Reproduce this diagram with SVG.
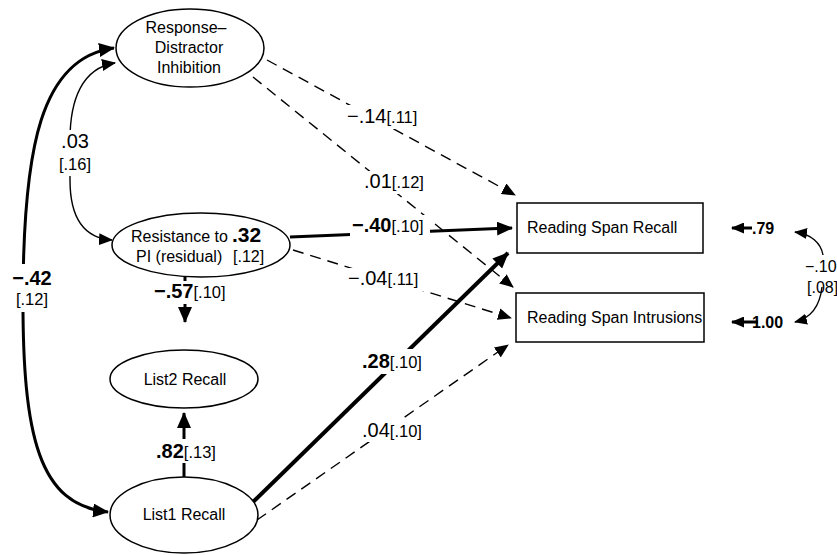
<svg xmlns="http://www.w3.org/2000/svg" width="837" height="555" viewBox="0 0 837 555">
<style>
  text { font-family: "Liberation Sans", Arial, sans-serif; fill: #000; }
  .node { fill: #fff; stroke: #000; stroke-width: 1.5; }
  .nt { font-size: 16px; }
  .num { font-size: 20px; }
  .b { font-weight: bold; }
  .br { font-size: 16.5px; }
  .dash { fill: none; stroke: #000; stroke-width: 1.4; stroke-dasharray: 11 7; }
  .thin { fill: none; stroke: #000; stroke-width: 1.4; }
  .thick { fill: none; stroke: #000; stroke-width: 3; }
  .thicker { fill: none; stroke: #000; stroke-width: 4; }
  .bg { fill: #fff; stroke: none; }
</style>
<defs>
  <marker id="ah" viewBox="0 0 14 12" refX="13" refY="6" markerWidth="14" markerHeight="12" markerUnits="userSpaceOnUse" orient="auto-start-reverse">
    <path d="M0,0 L14,6 L0,12 z" fill="#000"/>
  </marker>
  <marker id="ahb" viewBox="0 0 16 14" refX="15" refY="7" markerWidth="16" markerHeight="14" markerUnits="userSpaceOnUse" orient="auto-start-reverse">
    <path d="M0,0 L16,7 L0,14 z" fill="#000"/>
  </marker>
  <marker id="ahs" viewBox="0 0 13 11" refX="12" refY="5.5" markerWidth="13" markerHeight="11" markerUnits="userSpaceOnUse" orient="auto-start-reverse">
    <path d="M0,0 L13,5.5 L0,11 z" fill="#000"/>
  </marker>
</defs>

<g id="connectors">
  <path class="thick" d="M 114 48 C 40 58, 24 150, 23 290 C 22 440, 40 505, 108 512" marker-start="url(#ahb)" marker-end="url(#ahb)"/>
  <path class="thin" d="M 115 63 C 82 68, 70 100, 70 140 L 70 180 C 70 215, 82 238, 112 240" marker-start="url(#ah)" marker-end="url(#ah)"/>
  <line class="dash" x1="267" y1="60" x2="515" y2="195" marker-end="url(#ah)"/>
  <line class="dash" x1="253" y1="77" x2="513" y2="287" marker-end="url(#ah)"/>
  <line class="thick" x1="290" y1="237" x2="512" y2="228" marker-end="url(#ahb)"/>
  <line class="dash" x1="293" y1="250" x2="511" y2="318" marker-end="url(#ah)"/>
  <line class="thicker" x1="253" y1="502" x2="508" y2="253" marker-end="url(#ahb)"/>
  <line class="dash" x1="257" y1="520" x2="508" y2="345" marker-end="url(#ah)"/>
  <line class="thick" x1="185" y1="277" x2="185" y2="322" marker-end="url(#ahb)"/>
  <line class="thick" x1="184" y1="477" x2="184" y2="413" marker-end="url(#ahb)"/>
  <line class="thick" x1="752" y1="228" x2="732" y2="228" marker-end="url(#ahs)"/>
  <line class="thick" x1="758" y1="322" x2="732" y2="322" marker-end="url(#ahs)"/>
  <path class="thin" d="M 823 255 C 821 243, 811 234, 795 232" marker-end="url(#ahs)"/>
  <path class="thin" d="M 822 287 C 820 305, 811 318, 795 322" marker-end="url(#ahs)"/>
</g>

<g id="labels">
  <rect class="bg" x="9" y="264" width="48" height="48"/>
  <text class="num b" x="32" y="285" text-anchor="middle">−.42</text>
  <text class="br" x="32" y="305" text-anchor="middle">[.12]</text>

  <rect class="bg" x="56" y="130" width="38" height="46"/>
  <text class="num" x="75" y="148" text-anchor="middle">.03</text>
  <text class="br" x="75" y="170" text-anchor="middle">[.16]</text>

  <rect class="bg" x="345" y="105" width="82" height="24"/>
  <text x="347" y="123"><tspan class="num">−.14</tspan><tspan class="br">[.11]</tspan></text>

  <rect class="bg" x="362" y="171" width="66" height="23"/>
  <text x="364" y="188"><tspan class="num">.01</tspan><tspan class="br">[.12]</tspan></text>

  <rect class="bg" x="350" y="215" width="80" height="23"/>
  <text x="352" y="232"><tspan class="num b">−.40</tspan><tspan class="br">[.10]</tspan></text>

  <rect class="bg" x="346" y="268" width="82" height="23"/>
  <text x="348" y="285"><tspan class="num">−.04</tspan><tspan class="br">[.11]</tspan></text>

  <rect class="bg" x="360" y="349" width="68" height="25"/>
  <text x="362" y="368"><tspan class="num b">.28</tspan><tspan class="br">[.10]</tspan></text>

  <rect class="bg" x="360" y="419" width="68" height="23"/>
  <text x="362" y="437"><tspan class="num">.04</tspan><tspan class="br">[.10]</tspan></text>

  <rect class="bg" x="152" y="281" width="82" height="23"/>
  <text x="154" y="298"><tspan class="num b">−.57</tspan><tspan class="br">[.10]</tspan></text>

  <rect class="bg" x="154" y="439" width="68" height="24"/>
  <text x="156" y="458"><tspan class="num b">.82</tspan><tspan class="br">[.13]</tspan></text>

  <text class="b" x="752" y="234" font-size="16">.79</text>
  <text class="b" x="752" y="328" font-size="16">1.00</text>
  <text x="805" y="272" font-size="16">−.10</text>
  <text x="807" y="293" font-size="16">[.08]</text>
</g>

<g id="rdi">
  <ellipse class="node" cx="190" cy="48" rx="74" ry="39"/>
  <text class="nt" x="186" y="33" text-anchor="middle">Response–</text>
  <text class="nt" x="189" y="53" text-anchor="middle">Distractor</text>
  <text class="nt" x="189" y="73" text-anchor="middle">Inhibition</text>
</g>

<g id="res">
  <ellipse class="node" cx="201" cy="245" rx="89" ry="32"/>
  <text class="nt" x="131" y="242">Resistance to</text>
  <text class="b" x="232" y="242" font-size="21">.32</text>
  <text class="nt" x="136" y="262">PI (residual)</text>
  <text class="nt" x="233" y="262">[.12]</text>
</g>

<g id="list2">
  <ellipse class="node" cx="184" cy="379" rx="74" ry="29"/>
  <text class="nt" x="185" y="385" text-anchor="middle">List2 Recall</text>
</g>

<g id="list1">
  <ellipse class="node" cx="184" cy="515" rx="74" ry="38"/>
  <text class="nt" x="184" y="520" text-anchor="middle">List1 Recall</text>
</g>

<g id="rsr">
  <rect class="node" x="517" y="203" width="186" height="50"/>
  <text class="nt" x="527" y="233">Reading Span Recall</text>
</g>

<g id="rsi">
  <rect class="node" x="516" y="293" width="188" height="49"/>
  <text class="nt" x="527" y="323">Reading Span Intrusions</text>
</g>
</svg>
